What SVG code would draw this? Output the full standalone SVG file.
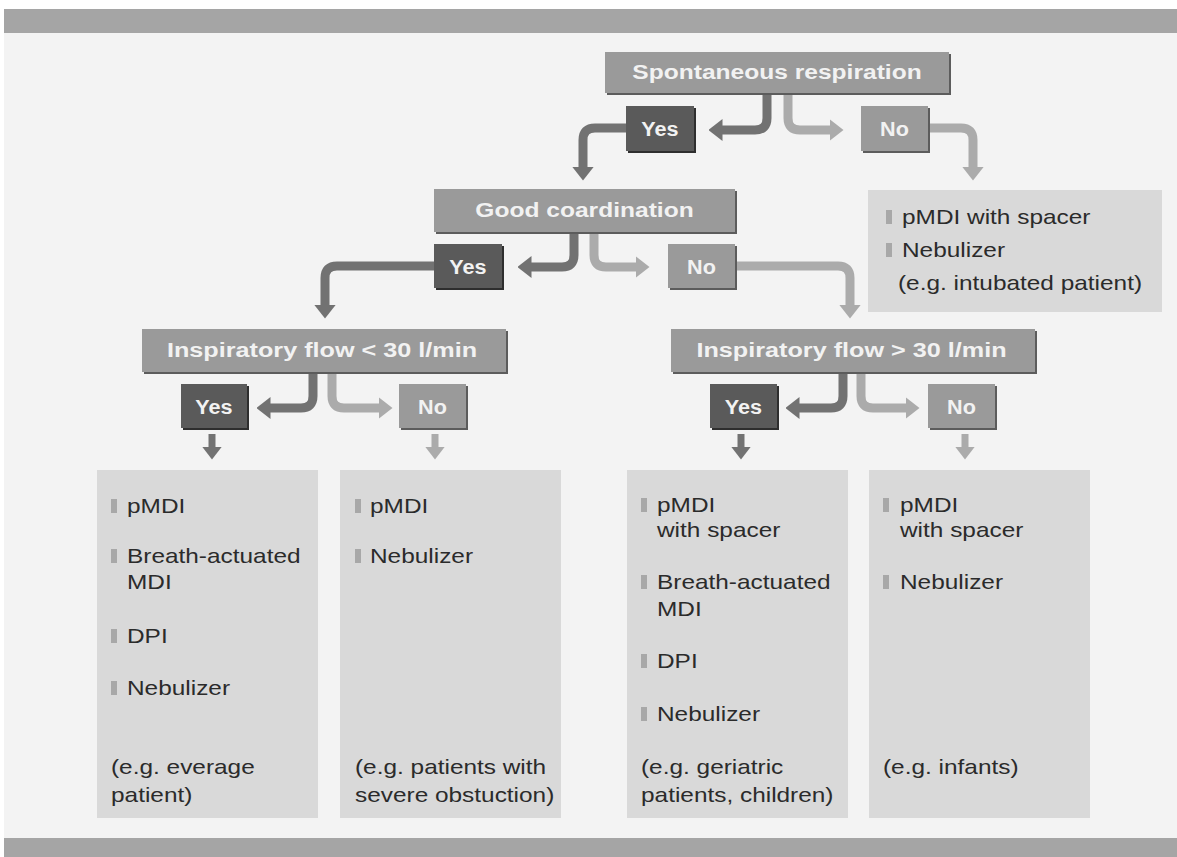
<svg xmlns="http://www.w3.org/2000/svg" width="1177" height="857" viewBox="0 0 1177 857">
<style>
.hb{fill:#9a9a9a}
.sh{fill:#5c5c5c}
.yb{fill:#5a5a5a}
.ysh{fill:#2e2e2e}
.pb{fill:#d9d9d9}
.ht{font-family:"Liberation Sans",Arial,sans-serif;font-weight:bold;font-size:21px;fill:#f2f2f2;text-anchor:middle}
.bt{font-family:"Liberation Sans",Arial,sans-serif;font-size:20px;fill:#2b2b2b}
.bu{fill:#a8a8a8}
.ya{fill:none;stroke:#727272;stroke-width:9}
.na{fill:none;stroke:#ababab;stroke-width:9}
.yd{fill:none;stroke:#727272;stroke-width:7}
.nd{fill:none;stroke:#ababab;stroke-width:7}
</style>
<defs>
<marker id="mY" markerUnits="userSpaceOnUse" markerWidth="14" markerHeight="22" viewBox="0 0 14 22" refX="0.5" refY="11" orient="auto"><path d="M0,0 L14,11 L0,22 z" fill="#727272"/></marker>
<marker id="mN" markerUnits="userSpaceOnUse" markerWidth="14" markerHeight="22" viewBox="0 0 14 22" refX="0.5" refY="11" orient="auto"><path d="M0,0 L14,11 L0,22 z" fill="#ababab"/></marker>
<marker id="sY" markerUnits="userSpaceOnUse" markerWidth="13" markerHeight="20" viewBox="0 0 13 20" refX="0.5" refY="10" orient="auto"><path d="M0,0 L13,10 L0,20 z" fill="#727272"/></marker>
<marker id="sN" markerUnits="userSpaceOnUse" markerWidth="13" markerHeight="20" viewBox="0 0 13 20" refX="0.5" refY="10" orient="auto"><path d="M0,0 L13,10 L0,20 z" fill="#ababab"/></marker>
</defs>
<rect x="0" y="0" width="1177" height="857" fill="#ffffff"/>
<rect x="4" y="33" width="1173" height="806" fill="#f3f3f3"/>
<rect x="4" y="9" width="1173" height="24" fill="#a5a5a5"/>
<rect x="4" y="838" width="1173" height="19" fill="#a5a5a5"/>

<g id="connectors">
<path class="ya" d="M767,93 V118 Q767,130 755,130 H722" marker-end="url(#mY)"/>
<path class="na" d="M788,93 V118 Q788,130 800,130 H830" marker-end="url(#mN)"/>
<path class="ya" d="M626,128 H595 Q583,128 583,140 V167" marker-end="url(#mY)"/>
<path class="na" d="M928,128 H961 Q973,128 973,140 V167" marker-end="url(#mN)"/>
<path class="ya" d="M574,232 V255 Q574,267 562,267 H531" marker-end="url(#mY)"/>
<path class="na" d="M594,232 V255 Q594,267 606,267 H636" marker-end="url(#mN)"/>
<path class="ya" d="M434,266 H337 Q325,266 325,278 V305" marker-end="url(#mY)"/>
<path class="na" d="M735,266 H838 Q850,266 850,278 V305" marker-end="url(#mN)"/>
<path class="ya" d="M313,372 V396 Q313,408 301,408 H270" marker-end="url(#mY)"/>
<path class="na" d="M332,372 V396 Q332,408 344,408 H379" marker-end="url(#mN)"/>
<path class="ya" d="M843,372 V396 Q843,408 831,408 H799" marker-end="url(#mY)"/>
<path class="na" d="M861,372 V396 Q861,408 873,408 H906" marker-end="url(#mN)"/>
<path class="yd" d="M212,434 V447" marker-end="url(#sY)"/>
<path class="nd" d="M435,434 V447" marker-end="url(#sN)"/>
<path class="yd" d="M741,434 V447" marker-end="url(#sY)"/>
<path class="nd" d="M965,434 V447" marker-end="url(#sN)"/>
</g>

<g id="spontaneous">
<rect class="sh" x="607" y="54" width="344" height="41"/>
<rect class="hb" x="605" y="52" width="344" height="41"/>
<text class="ht" transform="translate(777,79) scale(1.17,1)">Spontaneous respiration</text>
</g>
<g id="yes1">
<rect class="ysh" x="628" y="108" width="68" height="45"/>
<rect class="yb" x="626" y="106" width="68" height="45"/>
<text class="ht" transform="translate(660,136) scale(1.03,1)">Yes</text>
</g>
<g id="no1">
<rect class="sh" x="863" y="108" width="67" height="45"/>
<rect class="hb" x="861" y="106" width="67" height="45"/>
<text class="ht" transform="translate(894.5,136) scale(1.03,1)">No</text>
</g>
<g id="good">
<rect class="sh" x="436" y="191" width="301" height="43"/>
<rect class="hb" x="434" y="189" width="301" height="43"/>
<text class="ht" transform="translate(584.5,217) scale(1.17,1)">Good coardination</text>
</g>
<g id="yes2">
<rect class="ysh" x="436" y="246" width="68" height="44"/>
<rect class="yb" x="434" y="244" width="68" height="44"/>
<text class="ht" transform="translate(468,273.5) scale(1.03,1)">Yes</text>
</g>
<g id="no2">
<rect class="sh" x="670" y="246" width="67" height="44"/>
<rect class="hb" x="668" y="244" width="67" height="44"/>
<text class="ht" transform="translate(701.5,273.5) scale(1.03,1)">No</text>
</g>
<g id="noresp">
<rect class="pb" x="868" y="190" width="294" height="122"/>
<rect class="bu" x="886" y="210" width="6" height="14"/>
<text class="bt" transform="translate(902,224) scale(1.22,1)">pMDI with spacer</text>
<rect class="bu" x="886" y="243" width="6" height="14"/>
<text class="bt" transform="translate(902,257) scale(1.22,1)">Nebulizer</text>
<text class="bt" transform="translate(898,290) scale(1.22,1)">(e.g. intubated patient)</text>
</g>
<g id="flowlow">
<rect class="sh" x="144" y="331" width="364" height="43"/>
<rect class="hb" x="142" y="329" width="364" height="43"/>
<text class="ht" transform="translate(322,357) scale(1.2,1)">Inspiratory flow &lt; 30 l/min</text>
</g>
<g id="flowhigh">
<rect class="sh" x="673" y="331" width="364" height="43"/>
<rect class="hb" x="671" y="329" width="364" height="43"/>
<text class="ht" transform="translate(851.5,357) scale(1.2,1)">Inspiratory flow &gt; 30 l/min</text>
</g>
<g id="yes3">
<rect class="ysh" x="183" y="386" width="66" height="44"/>
<rect class="yb" x="181" y="384" width="66" height="44"/>
<text class="ht" transform="translate(214,413.5) scale(1.03,1)">Yes</text>
</g>
<g id="no3">
<rect class="sh" x="401" y="386" width="67" height="44"/>
<rect class="hb" x="399" y="384" width="67" height="44"/>
<text class="ht" transform="translate(432.5,413.5) scale(1.03,1)">No</text>
</g>
<g id="yes4">
<rect class="ysh" x="712" y="386" width="67" height="44"/>
<rect class="yb" x="710" y="384" width="67" height="44"/>
<text class="ht" transform="translate(743.5,413.5) scale(1.03,1)">Yes</text>
</g>
<g id="no4">
<rect class="sh" x="930" y="386" width="67" height="44"/>
<rect class="hb" x="928" y="384" width="67" height="44"/>
<text class="ht" transform="translate(961.5,413.5) scale(1.03,1)">No</text>
</g>

<g id="box1">
<rect class="pb" x="97" y="470" width="221" height="348"/>
<rect class="bu" x="111" y="499" width="6" height="14"/>
<text class="bt" transform="translate(127,513) scale(1.22,1)">pMDI</text>
<rect class="bu" x="111" y="549" width="6" height="14"/>
<text class="bt" transform="translate(127,563) scale(1.22,1)">Breath-actuated</text>
<text class="bt" transform="translate(127,589) scale(1.22,1)">MDI</text>
<rect class="bu" x="111" y="629" width="6" height="14"/>
<text class="bt" transform="translate(127,643) scale(1.22,1)">DPI</text>
<rect class="bu" x="111" y="681" width="6" height="14"/>
<text class="bt" transform="translate(127,695) scale(1.22,1)">Nebulizer</text>
<text class="bt" transform="translate(111,774) scale(1.22,1)">(e.g. everage</text>
<text class="bt" transform="translate(111,802) scale(1.22,1)">patient)</text>
</g>
<g id="box2">
<rect class="pb" x="340" y="470" width="221" height="348"/>
<rect class="bu" x="355" y="499" width="6" height="14"/>
<text class="bt" transform="translate(370,513) scale(1.22,1)">pMDI</text>
<rect class="bu" x="355" y="549" width="6" height="14"/>
<text class="bt" transform="translate(370,563) scale(1.22,1)">Nebulizer</text>
<text class="bt" transform="translate(355,774) scale(1.22,1)">(e.g. patients with</text>
<text class="bt" transform="translate(355,802) scale(1.22,1)">severe obstuction)</text>
</g>
<g id="box3">
<rect class="pb" x="627" y="470" width="221" height="348"/>
<rect class="bu" x="641" y="498" width="6" height="14"/>
<text class="bt" transform="translate(657,512) scale(1.22,1)">pMDI</text>
<text class="bt" transform="translate(657,537) scale(1.22,1)">with spacer</text>
<rect class="bu" x="641" y="575" width="6" height="14"/>
<text class="bt" transform="translate(657,589) scale(1.22,1)">Breath-actuated</text>
<text class="bt" transform="translate(657,616) scale(1.22,1)">MDI</text>
<rect class="bu" x="641" y="654" width="6" height="14"/>
<text class="bt" transform="translate(657,668) scale(1.22,1)">DPI</text>
<rect class="bu" x="641" y="707" width="6" height="14"/>
<text class="bt" transform="translate(657,721) scale(1.22,1)">Nebulizer</text>
<text class="bt" transform="translate(641,774) scale(1.22,1)">(e.g. geriatric</text>
<text class="bt" transform="translate(641,802) scale(1.22,1)">patients, children)</text>
</g>
<g id="box4">
<rect class="pb" x="869" y="470" width="221" height="348"/>
<rect class="bu" x="883" y="498" width="6" height="14"/>
<text class="bt" transform="translate(900,512) scale(1.22,1)">pMDI</text>
<text class="bt" transform="translate(900,537) scale(1.22,1)">with spacer</text>
<rect class="bu" x="883" y="575" width="6" height="14"/>
<text class="bt" transform="translate(900,589) scale(1.22,1)">Nebulizer</text>
<text class="bt" transform="translate(883,774) scale(1.22,1)">(e.g. infants)</text>
</g>
</svg>
